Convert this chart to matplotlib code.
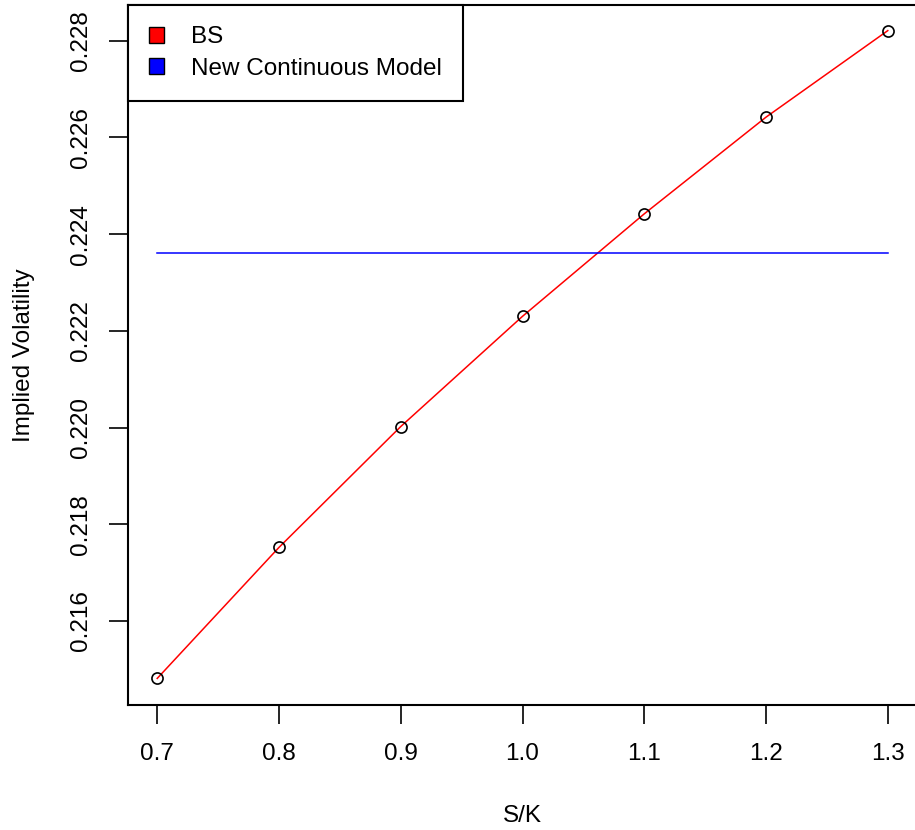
import numpy as np
import matplotlib
matplotlib.use("Agg")
import matplotlib.pyplot as plt
from matplotlib.patches import Patch

plt.rcParams['font.family'] = ['Liberation Sans', 'DejaVu Sans']

# data
moneyness = [0.7, 0.8, 0.9, 1.0, 1.1, 1.2, 1.3]
bs_vol = [0.21481, 0.21752, 0.22002, 0.22230, 0.22442, 0.22642, 0.22821]
new_model_vol = [0.22360, 0.22360]
new_model_x = [0.7, 1.3]
x_ticks = [0.7, 0.8, 0.9, 1.0, 1.1, 1.2, 1.3]
y_ticks = [0.216, 0.218, 0.220, 0.222, 0.224, 0.226, 0.228]

W, H = 915, 830
fig = plt.figure(figsize=(W / 100, H / 100), dpi=100)
left, right, top, bottom = 128, 917, 5, 705
ax = fig.add_axes([left / W, 1 - bottom / H, (right - left) / W, (bottom - top) / H])

fs = 17.5
ax.plot(moneyness, bs_vol, color='red', lw=1.1, zorder=2)
ax.plot(moneyness, bs_vol, ls='none', marker='o', ms=8, mfc='none', mec='black', mew=1.2, zorder=3)
ax.plot(new_model_x, new_model_vol, color='blue', lw=1.1, zorder=2)

ax.set_xlim(0.676, 1.324)
ax.set_ylim(0.21426, 0.22874)
ax.set_xticks(x_ticks)
ax.set_xticklabels([f"{v:.1f}" for v in x_ticks])
ax.set_yticks(y_ticks)
ax.set_yticklabels([f"{v:.3f}" for v in y_ticks], rotation=90, va='center')
ax.tick_params(axis='both', direction='out', length=14, width=1.2, labelsize=fs, colors='black')
ax.tick_params(axis='x', pad=13)
ax.tick_params(axis='y', pad=12)
for s in ax.spines.values():
    s.set_linewidth(1.5)

ax.set_xlabel('S/K', fontsize=fs, labelpad=29)
ax.set_ylabel('Implied Volatility', fontsize=fs, labelpad=25)

handles = [Patch(facecolor='red', edgecolor='black', label='BS'),
           Patch(facecolor='blue', edgecolor='black', label='New Continuous Model')]
leg = ax.legend(handles=handles, loc='upper left', bbox_to_anchor=(0, 1), borderaxespad=0,
                fancybox=False, framealpha=1, edgecolor='black', fontsize=fs,
                handlelength=0.6, handleheight=0.6, handletextpad=1.1, borderpad=0.88,
                labelspacing=0.38)
leg.get_frame().set_linewidth(1.5)

fig.savefig('out.png', dpi=100)
